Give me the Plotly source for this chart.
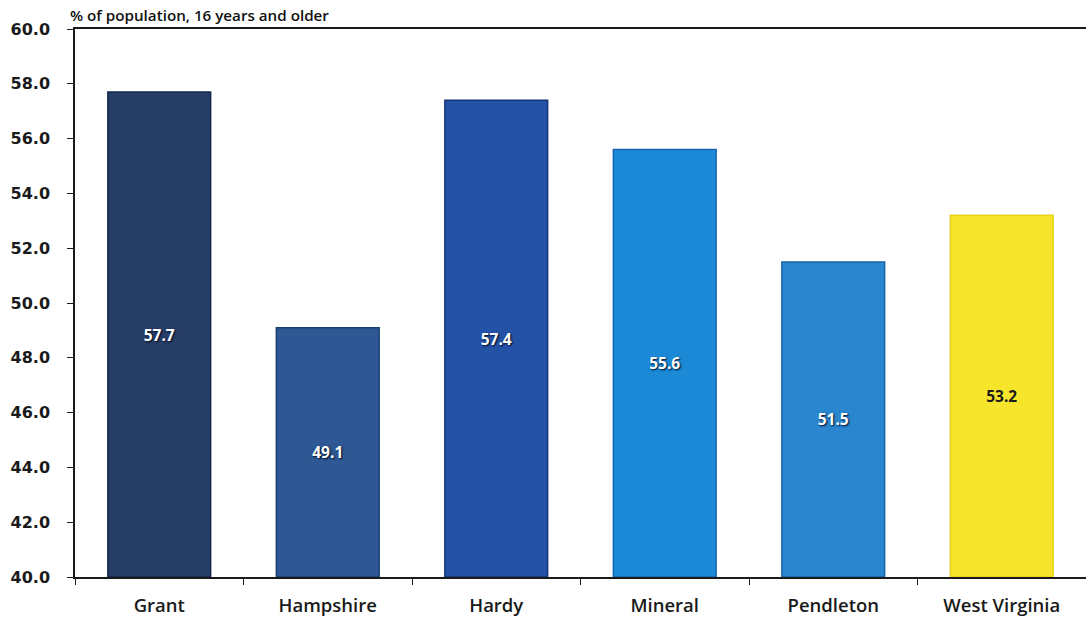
import plotly.graph_objects as go

# Share of the population aged 16+ (percent), by county
counties = ["Grant", "Hampshire", "Hardy", "Mineral", "Pendleton", "West Virginia"]
values = [57.7, 49.1, 57.4, 55.6, 51.5, 53.2]
bar_colors = ["#263d66", "#2d5893", "#2452a6", "#1b89d6", "#2a86cf", "#f7e52c"]
edge_colors = ["#15284d", "#1a3c70", "#15357a", "#1566b0", "#1a64a8", "#e8d21a"]
label_colors = ["#ffffff", "#ffffff", "#ffffff", "#ffffff", "#ffffff", "#1a1a1a"]
label_shadows = ["1px 1px 2px #000820"] * 5 + ["none"]
y_ticks = [40 + 2 * i for i in range(11)]

fig = go.Figure(
    go.Bar(
        x=counties,
        y=[v - 40 for v in values],
        base=40,
        text=[f"{v:.1f}" for v in values],
        textposition="inside",
        insidetextanchor="middle",
        textangle=0,
        textfont=dict(family="Open Sans", size=15.5, color=label_colors,
                      weight=700, shadow=label_shadows),
        marker=dict(color=bar_colors, line=dict(color=edge_colors, width=1.5)),
        hoverinfo="skip",
    )
)

fig.update_layout(
    width=1086,
    height=620,
    margin=dict(l=75, r=0, t=29, b=43),
    paper_bgcolor="white",
    plot_bgcolor="white",
    bargap=0.39,
    showlegend=False,
    uniformtext=dict(mode=False),
)

fig.update_xaxes(
    type="category",
    showline=True,
    linecolor="#1a1a1a",
    linewidth=1.5,
    mirror=True,
    ticks="outside",
    tickson="boundaries",
    ticklen=6,
    tickcolor="#1a1a1a",
    tickfont=dict(family="Open Sans", size=18.5, color="#1a1a1a", weight=600),
    ticklabelstandoff=11,
    showgrid=False,
)

fig.update_yaxes(
    range=[40, 60],
    tickvals=y_ticks,
    ticktext=[f"{t:.1f}" for t in y_ticks],
    showline=True,
    linecolor="#1a1a1a",
    linewidth=1.5,
    ticks="outside",
    ticklen=6,
    tickcolor="#1a1a1a",
    tickfont=dict(family="DejaVu Sans", size=16, color="#1a1a1a", weight="bold"),
    ticklabelstandoff=14,
    showgrid=False,
    zeroline=False,
)

fig.add_annotation(
    text="% of population, 16 years and older",
    xref="paper", yref="paper",
    x=-7 / 1011, y=1,
    xanchor="left", yanchor="middle",
    yshift=14,
    showarrow=False,
    font=dict(family="Open Sans", size=15.2, color="#111111", weight=600),
)

fig.write_html("out.html")
